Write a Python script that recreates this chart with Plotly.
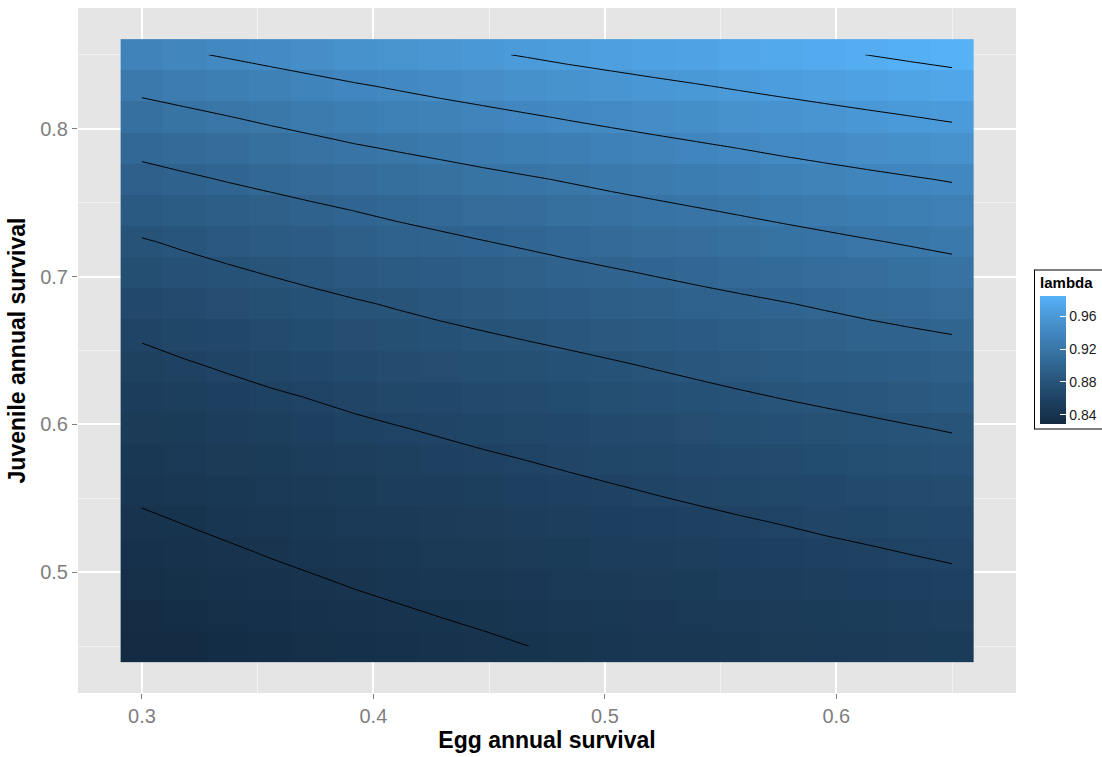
import plotly.graph_objects as go

# Grid of egg (x) and juvenile (y) annual survival rates
egg_survival = [0.3000, 0.3184, 0.3368, 0.3553, 0.3737, 0.3921, 0.4105, 0.4289, 0.4474, 0.4658,
                0.4842, 0.5026, 0.5211, 0.5395, 0.5579, 0.5763, 0.5947, 0.6132, 0.6316, 0.6500]
juvenile_survival = [0.4500, 0.4711, 0.4921, 0.5132, 0.5342, 0.5553, 0.5763, 0.5974, 0.6184, 0.6395,
                     0.6605, 0.6816, 0.7026, 0.7237, 0.7447, 0.7658, 0.7868, 0.8079, 0.8289, 0.8500]

# Population growth rate (lambda); one row per juvenile survival value
lam = [
    [0.8286, 0.8299, 0.8311, 0.8324, 0.8336, 0.8349, 0.8361, 0.8374, 0.8386, 0.8399, 0.8411, 0.8421, 0.8431, 0.8442, 0.8452, 0.8462, 0.8472, 0.8483, 0.8493, 0.8503],
    [0.8308, 0.8322, 0.8335, 0.8349, 0.8362, 0.8376, 0.8389, 0.8402, 0.8414, 0.8427, 0.8440, 0.8451, 0.8461, 0.8472, 0.8482, 0.8493, 0.8504, 0.8515, 0.8526, 0.8537],
    [0.8332, 0.8347, 0.8361, 0.8376, 0.8390, 0.8405, 0.8418, 0.8431, 0.8444, 0.8458, 0.8471, 0.8482, 0.8493, 0.8505, 0.8516, 0.8527, 0.8539, 0.8551, 0.8562, 0.8574],
    [0.8358, 0.8374, 0.8389, 0.8405, 0.8420, 0.8436, 0.8450, 0.8463, 0.8477, 0.8490, 0.8504, 0.8516, 0.8528, 0.8540, 0.8552, 0.8564, 0.8577, 0.8589, 0.8602, 0.8614],
    [0.8386, 0.8403, 0.8419, 0.8436, 0.8452, 0.8469, 0.8483, 0.8497, 0.8511, 0.8525, 0.8539, 0.8552, 0.8565, 0.8578, 0.8591, 0.8604, 0.8618, 0.8631, 0.8645, 0.8658],
    [0.8418, 0.8435, 0.8452, 0.8470, 0.8487, 0.8504, 0.8518, 0.8533, 0.8547, 0.8562, 0.8576, 0.8590, 0.8605, 0.8619, 0.8634, 0.8648, 0.8662, 0.8677, 0.8691, 0.8705],
    [0.8452, 0.8470, 0.8488, 0.8505, 0.8523, 0.8541, 0.8556, 0.8571, 0.8586, 0.8601, 0.8616, 0.8632, 0.8648, 0.8663, 0.8679, 0.8695, 0.8710, 0.8725, 0.8740, 0.8755],
    [0.8488, 0.8506, 0.8524, 0.8543, 0.8561, 0.8579, 0.8596, 0.8612, 0.8629, 0.8645, 0.8662, 0.8679, 0.8696, 0.8713, 0.8730, 0.8747, 0.8762, 0.8777, 0.8793, 0.8808],
    [0.8526, 0.8546, 0.8565, 0.8585, 0.8604, 0.8624, 0.8642, 0.8659, 0.8677, 0.8694, 0.8712, 0.8730, 0.8748, 0.8767, 0.8785, 0.8803, 0.8819, 0.8835, 0.8850, 0.8866],
    [0.8566, 0.8589, 0.8611, 0.8634, 0.8656, 0.8679, 0.8697, 0.8714, 0.8732, 0.8749, 0.8767, 0.8786, 0.8806, 0.8825, 0.8845, 0.8864, 0.8881, 0.8897, 0.8914, 0.8930],
    [0.8612, 0.8637, 0.8661, 0.8686, 0.8710, 0.8735, 0.8754, 0.8773, 0.8792, 0.8811, 0.8830, 0.8850, 0.8870, 0.8890, 0.8910, 0.8930, 0.8947, 0.8965, 0.8982, 0.8999],
    [0.8673, 0.8696, 0.8719, 0.8743, 0.8766, 0.8789, 0.8811, 0.8833, 0.8854, 0.8876, 0.8898, 0.8917, 0.8936, 0.8956, 0.8975, 0.8994, 0.9014, 0.9035, 0.9055, 0.9075],
    [0.8732, 0.8757, 0.8782, 0.8807, 0.8832, 0.8857, 0.8879, 0.8901, 0.8922, 0.8944, 0.8966, 0.8987, 0.9008, 0.9029, 0.9050, 0.9071, 0.9091, 0.9112, 0.9132, 0.9152],
    [0.8791, 0.8819, 0.8846, 0.8874, 0.8901, 0.8929, 0.8952, 0.8974, 0.8997, 0.9019, 0.9042, 0.9064, 0.9085, 0.9107, 0.9128, 0.9150, 0.9171, 0.9192, 0.9212, 0.9233],
    [0.8868, 0.8895, 0.8922, 0.8948, 0.8975, 0.9002, 0.9027, 0.9051, 0.9076, 0.9100, 0.9125, 0.9147, 0.9169, 0.9191, 0.9213, 0.9235, 0.9256, 0.9278, 0.9299, 0.9320],
    [0.8950, 0.8979, 0.9008, 0.9036, 0.9065, 0.9094, 0.9117, 0.9140, 0.9164, 0.9187, 0.9210, 0.9234, 0.9257, 0.9281, 0.9304, 0.9328, 0.9348, 0.9369, 0.9389, 0.9409],
    [0.9038, 0.9068, 0.9097, 0.9127, 0.9156, 0.9186, 0.9211, 0.9235, 0.9260, 0.9284, 0.9309, 0.9332, 0.9355, 0.9378, 0.9401, 0.9424, 0.9446, 0.9468, 0.9490, 0.9512],
    [0.9136, 0.9166, 0.9196, 0.9227, 0.9257, 0.9287, 0.9312, 0.9337, 0.9361, 0.9386, 0.9411, 0.9435, 0.9459, 0.9482, 0.9506, 0.9530, 0.9552, 0.9574, 0.9596, 0.9618],
    [0.9239, 0.9269, 0.9299, 0.9328, 0.9358, 0.9388, 0.9415, 0.9442, 0.9468, 0.9495, 0.9522, 0.9545, 0.9569, 0.9592, 0.9616, 0.9639, 0.9662, 0.9686, 0.9709, 0.9732],
    [0.9352, 0.9383, 0.9413, 0.9444, 0.9474, 0.9505, 0.9531, 0.9557, 0.9583, 0.9609, 0.9635, 0.9659, 0.9683, 0.9706, 0.9730, 0.9754, 0.9778, 0.9801, 0.9825, 0.9848],
]

contour_start, contour_end, contour_step = 0.84, 0.98, 0.02
legend_ticks = [0.84, 0.88, 0.92, 0.96]


# ---- colour ramp: interpolate between two colours in CIE Lab space ----
def _srgb_to_lin(c):
    return c / 12.92 if c <= 0.04045 else ((c + 0.055) / 1.055) ** 2.4


def _lin_to_srgb(c):
    c = max(0.0, min(1.0, c))
    return 12.92 * c if c <= 0.0031308 else 1.055 * c ** (1 / 2.4) - 0.055


WHITE = (0.95047, 1.0, 1.08883)


def hex_to_lab(h):
    r, g, b = (_srgb_to_lin(int(h[i:i + 2], 16) / 255) for i in (1, 3, 5))
    X = 0.4124 * r + 0.3576 * g + 0.1805 * b
    Y = 0.2126 * r + 0.7152 * g + 0.0722 * b
    Z = 0.0193 * r + 0.1192 * g + 0.9505 * b

    def f(t):
        return t ** (1 / 3) if t > 0.008856 else 7.787 * t + 16 / 116

    fx, fy, fz = f(X / WHITE[0]), f(Y / WHITE[1]), f(Z / WHITE[2])
    return 116 * fy - 16, 500 * (fx - fy), 200 * (fy - fz)


def lab_to_hex(L, a, b):
    fy = (L + 16) / 116
    fx = fy + a / 500
    fz = fy - b / 200

    def finv(t):
        return t ** 3 if t ** 3 > 0.008856 else (t - 16 / 116) / 7.787

    X, Y, Z = finv(fx) * WHITE[0], finv(fy) * WHITE[1], finv(fz) * WHITE[2]
    r = 3.2406 * X - 1.5372 * Y - 0.4986 * Z
    g = -0.9689 * X + 1.8758 * Y + 0.0415 * Z
    bb = 0.0557 * X - 0.2040 * Y + 1.0570 * Z
    return "#%02x%02x%02x" % tuple(round(_lin_to_srgb(c) * 255) for c in (r, g, bb))


low, high = hex_to_lab("#132B43"), hex_to_lab("#56B1F7")
n_stops = 16
colorscale = []
for k in range(n_stops):
    t = k / (n_stops - 1)
    lab = [low[m] + (high[m] - low[m]) * t for m in range(3)]
    colorscale.append([t, lab_to_hex(*lab)])

# ---- axis limits: tile extent plus 5% padding ----
dx = egg_survival[1] - egg_survival[0]
dy = juvenile_survival[1] - juvenile_survival[0]
x_lo, x_hi = egg_survival[0] - dx / 2, egg_survival[-1] + dx / 2
y_lo, y_hi = juvenile_survival[0] - dy / 2, juvenile_survival[-1] + dy / 2
x_pad, y_pad = 0.05 * (x_hi - x_lo), 0.05 * (y_hi - y_lo)

FONT = "Liberation Sans, Arial, sans-serif"

fig = go.Figure()

fig.add_trace(go.Heatmap(
    x=egg_survival, y=juvenile_survival, z=lam,
    colorscale=colorscale, zsmooth=False,
    colorbar=dict(
        title=dict(text="<b>lambda</b>", side="top",
                   font=dict(family=FONT, size=15, color="black")),
        tickvals=legend_ticks, ticktext=[f"{v:.2f}" for v in legend_ticks],
        ticks="inside", ticklen=6, tickcolor="white", tickwidth=1,
        tickfont=dict(family=FONT, size=14, color="#1a1a1a"),
        thickness=26, thicknessmode="pixels",
        len=158, lenmode="pixels",
        x=1.0203, xanchor="left", y=0.6175, yanchor="top",
        xpad=5, ypad=4,
        outlinewidth=0,
        borderwidth=1, bordercolor="black", bgcolor="white",
    ),
    hoverinfo="skip",
))

fig.add_trace(go.Contour(
    x=egg_survival, y=juvenile_survival, z=lam,
    autocontour=False,
    contours=dict(start=contour_start, end=contour_end, size=contour_step,
                  coloring="none", showlabels=False),
    line=dict(color="black", width=1, smoothing=0),
    showscale=False, hoverinfo="skip",
))

axis_font = dict(family=FONT, size=20, color="#7F7F7F")
title_font = dict(family=FONT, size=23, color="black")

fig.update_layout(
    width=1102, height=757,
    margin=dict(l=78, r=86, t=8, b=64, autoexpand=False),
    paper_bgcolor="white",
    plot_bgcolor="#E5E5E5",
    showlegend=False,
    xaxis=dict(
        range=[x_lo - x_pad, x_hi + x_pad],
        tick0=0, dtick=0.1, tickformat=".1f",
        showgrid=True, gridcolor="white", gridwidth=1.6,
        minor=dict(dtick=0.05, tick0=0, showgrid=True, gridcolor="#F2F2F2", gridwidth=0.8),
        ticks="outside", ticklen=5, tickcolor="#7F7F7F", tickwidth=1,
        tickfont=axis_font, zeroline=False, showline=False,
        title=dict(text="<b>Egg annual survival</b>", font=title_font, standoff=5),
    ),
    yaxis=dict(
        range=[y_lo - y_pad, y_hi + y_pad],
        tick0=0, dtick=0.1, tickformat=".1f",
        showgrid=True, gridcolor="white", gridwidth=1.6,
        minor=dict(dtick=0.05, tick0=0, showgrid=True, gridcolor="#F2F2F2", gridwidth=0.8),
        ticks="outside", ticklen=5, tickcolor="#7F7F7F", tickwidth=1,
        tickfont=axis_font, zeroline=False, showline=False,
        title=dict(text="<b>Juvenile annual survival</b>", font=title_font, standoff=8),
    ),
)

fig.write_html("out.html")
